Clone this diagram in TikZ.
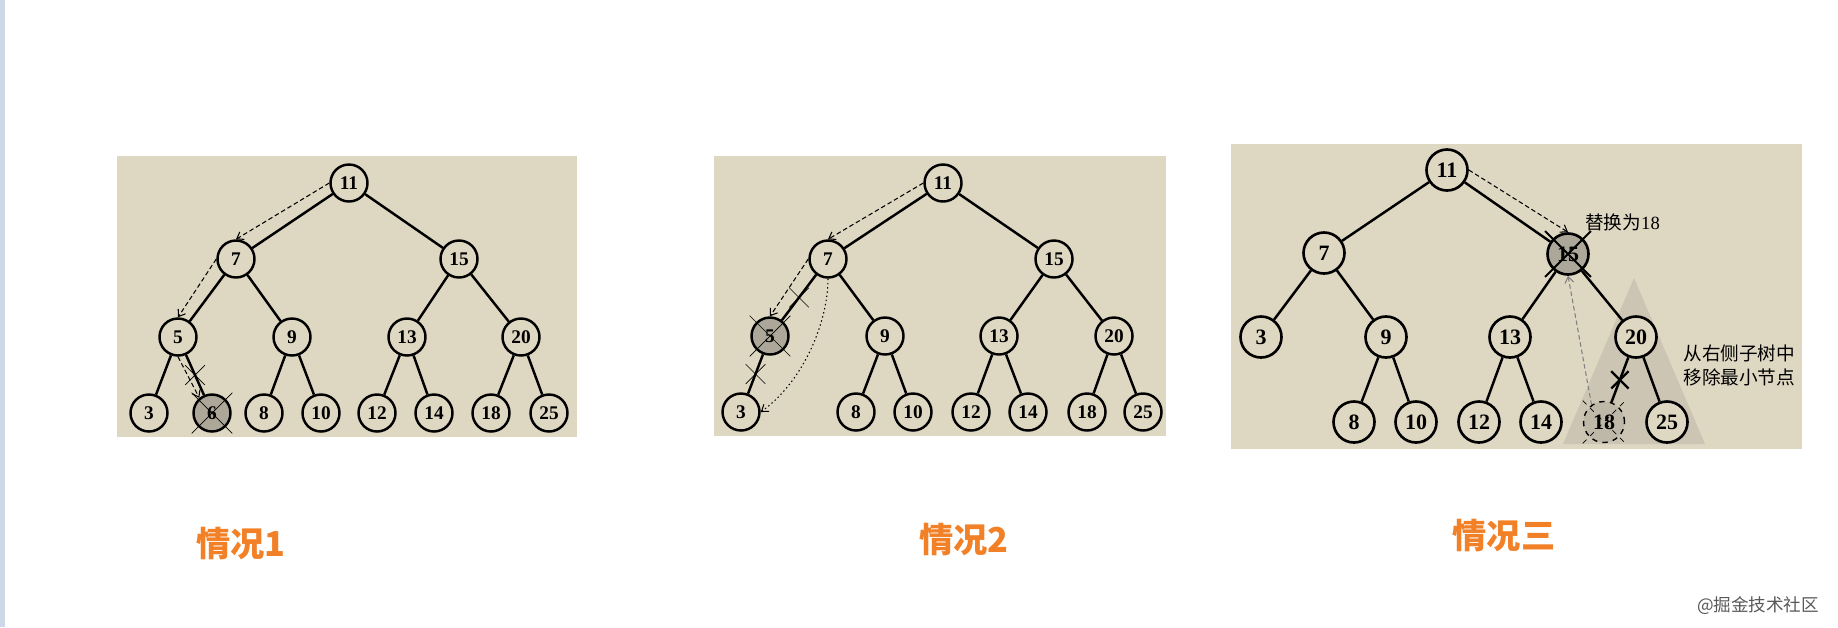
\documentclass[tikz,border=0pt]{standalone}
\usepackage{fontspec}
\setmainfont{Liberation Serif}
\newfontfamily\cjk{Noto Sans CJK SC}
\usetikzlibrary{shapes.misc,arrows.meta}
\definecolor{bgtan}{RGB}{222,215,194}
\definecolor{nodegray}{RGB}{172,167,152}
\definecolor{ghostgray}{RGB}{190,184,168}
\definecolor{trigray}{RGB}{204,197,179}
\definecolor{titleorange}{RGB}{242,128,38}
\definecolor{stripblue}{RGB}{205,215,232}
\newcommand{\pxu}{0.02cm}
\tikzset{
  bst/.style={circle, draw, line width=1.4pt, fill=bgtan, inner sep=0pt,
    minimum size=37*\pxu, font=\bfseries\fontsize{11}{12}\selectfont},
  bstbig/.style={bst, line width=1.5pt, minimum size=41*\pxu,
    font=\bfseries\fontsize{12.5}{14}\selectfont},
  tree/.style={line width=1.4pt},
  walk/.style={line width=0.6pt, dash pattern=on 2.6pt off 1.6pt,
    -{Straight Barb[length=3.5pt,width=5pt]}},
  cutmark/.style={cross out, draw, line width=0.4pt, minimum size=19*\pxu, inner sep=0pt},
  cutbig/.style={cross out, draw, line width=0.4pt, minimum size=40*\pxu, inner sep=0pt},
  note/.style={inner sep=0pt, font=\fontsize{10.6}{13.7}\selectfont},
  casetitle/.style={text=titleorange, font=\cjk\bfseries\fontsize{19.5}{22}\selectfont},
}
\begin{document}
\begin{tikzpicture}[x=0.02cm, y=-0.02cm]
    \useasboundingbox (0,0) rectangle (1838,627);
    \fill[white] (0,0) rectangle (1838,627);
    \fill[stripblue] (0,0) rectangle (5,627);
    % 三个底板
    \fill[bgtan] (117,156) rectangle (577,437);
    \fill[bgtan] (714,156) rectangle (1166,436);
    \fill[bgtan] (1231,144) rectangle (1802,449);
    \fill[trigray] (1634,278) -- (1705,444) -- (1563,444) -- cycle;

    %% 情况1: 删除叶子 6
    \foreach \n/\x/\y in
    {11/349/183, 7/236/259, 15/459/259, 5/178/337, 9/292/337, 13/407/337,
        20/521/337, 3/149/413, 8/264/413, 10/321/413, 12/377/413,
        14/434/413, 18/491/413, 25/549/413}
    {
        \node[bst] (A\n) at (\x,\y) {\n};
    };
    \node[bst, fill=nodegray] (A6) at (212,413) {6};
    \foreach \a/\b in {11/7, 11/15, 7/5, 7/9, 5/3, 9/8, 9/10,
        15/13, 15/20, 13/12, 13/14, 20/18, 20/25}
    {
        \draw[tree] (A\a) -- (A\b);
    };
    \draw[tree] (A5) -- node[cutmark] (A56x) {} (A6);
    \node[cutbig] (A6x) at (A6) {};
    \draw[walk] (A11.west) -- (A7.north);
    \draw[walk] (A7.west) -- (A5.north);
    \draw[walk] (A5.south) -- (A6.130);

    %% 情况2: 删除只有一个孩子的 5
    \foreach \n/\x/\y in
    {11/943/183, 7/828/259, 15/1054/259, 9/885/336, 13/999/336,
        20/1114/336, 3/741/412, 8/856/412, 10/913/412, 12/971/412,
        14/1028/412, 18/1087/412, 25/1143/412}
    {
        \node[bst] (B\n) at (\x,\y) {\n};
    };
    \node[bst, fill=nodegray] (B5) at (770,336) {5};
    \foreach \a/\b in {11/7, 11/15, 7/9, 9/8, 9/10,
        15/13, 15/20, 13/12, 13/14, 20/18, 20/25}
    {
        \draw[tree] (B\a) -- (B\b);
    };
    \draw[tree] (B7) -- node[cutmark] (B75x) {} (B5);
    \draw[tree] (B5) -- node[cutmark] (B53x) {} (B3);
    \node[cutbig] (B5x) at (B5) {};
    \draw[walk] (B11.west) -- (B7.north);
    \draw[walk] (B7.west) -- (B5.north);
    \draw[walk, dash pattern=on 0.8pt off 1.6pt]
    (B7.south) .. controls (828,320) and (805,380) .. (B3.east);

    %% 情况三: 删除有两个孩子的 15
    \foreach \n/\x/\y in
    {11/1447/170, 7/1324/253, 3/1261/337, 9/1386/337, 13/1510/337,
        20/1636/337, 8/1354/422, 10/1416/422, 12/1479/422,
        14/1541/422, 25/1667/422}
    {
        \node[bstbig] (C\n) at (\x,\y) {\n};
    };
    \node[bstbig, fill=nodegray] (C15) at (1568,254) {15};
    \node[bstbig, fill=ghostgray, dashed, line width=0.8pt] (C18) at (1604,422) {18};
    \foreach \a/\b in {11/7, 11/15, 7/3, 7/9, 9/8, 9/10,
        15/13, 15/20, 13/12, 13/14, 20/25}
    {
        \draw[tree] (C\a) -- (C\b);
    };
    \draw[tree] (C20) -- node[cutmark, line width=1.3pt, minimum size=15*\pxu] (C2018x) {} (C18);
    \node[cutbig, line width=1.1pt, minimum size=44*\pxu] (C15x) at (C15) {};
    \node[cutbig, dashed, minimum size=42*\pxu] (C18x) at (C18) {};
    \draw[walk] (C11.east) -- (C15.north);
    \draw[walk, gray] (C18.126) -- (C15.south);
    \node[note, anchor=west] (C15note) at (1585,222) {{\cjk 替换为}18};
    \node[note, anchor=west, align=left, font=\cjk\fontsize{10.6}{13.7}\selectfont]
    (C20note) at (1683,365) {从右侧子树中\\移除最小节点};

    % 标题
    \node[casetitle] (case1) at (241,543) {情况1};
    \node[casetitle] (case2) at (964,539) {情况2};
    \node[casetitle] (case3) at (1504,535) {情况三};
    \node[text=black!65, font=\cjk\fontsize{10}{12}\selectfont] (mark) at (1758,606) {@掘金技术社区};
\end{tikzpicture}
\end{document}
